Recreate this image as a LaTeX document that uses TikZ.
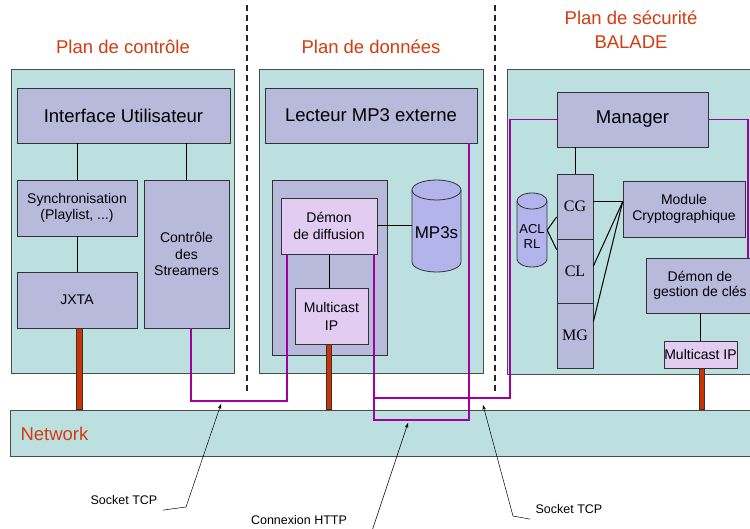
\documentclass[tikz,border=0pt]{standalone}
\usepackage{fontspec}
\setmainfont{Liberation Sans}
\newfontfamily\cgfont{Liberation Serif}
\usetikzlibrary{arrows.meta,calc}
\definecolor{panelc}{HTML}{BCE0E0}
\definecolor{boxc}{HTML}{B8BADC}
\definecolor{lightc}{HTML}{E2CCF2}
\definecolor{cylc}{HTML}{B4B4EC}
\definecolor{titlec}{HTML}{D23C10}
\definecolor{purpc}{HTML}{A000A0}
\definecolor{barc}{HTML}{CC3300}
\begin{document}
\begin{tikzpicture}[x=1pt,y=-1pt,
  panel/.style={draw=black!70,fill=panelc,line width=0.8pt,rectangle,inner sep=0pt},
  box/.style={draw=black!80,fill=boxc,line width=0.8pt,rectangle,inner sep=0pt,align=center},
  lbox/.style={box,fill=lightc},
  bigtxt/.style={font=\fontsize{18.5}{22}\selectfont},
  midtxt/.style={font=\fontsize{14}{16.5}\selectfont},
  smalltxt/.style={font=\fontsize{12.5}{15}\selectfont},
  titletxt/.style={bigtxt,text=titlec,align=center},
  conn/.style={draw=black,line width=1pt},
  purp/.style={draw=purpc,line width=1.8pt},
  bar/.style={fill=barc,draw=black!80,line width=0.5pt},
  anno/.style={draw=black,line width=0.5pt,-{Stealth[length=5pt,width=3.5pt]}},
  sep/.style={draw=black!85,line width=1.6pt,dash pattern=on 6pt off 4pt},
  cyl/.style={draw=black!80,fill=cylc,line width=0.8pt}
]
\clip (0,0) rectangle (750,529);
\fill[white] (0,0) rectangle (750,529);

% titles
\node[titletxt] (t1) at (123,47) {Plan de contrôle};
\node[titletxt] (t2) at (371,47) {Plan de données};
\node[titletxt] (t3) at (631,18) {Plan de sécurité};
\node[titletxt] (t4) at (631,42) {BALADE};

% panels
\node[panel,minimum width=223pt,minimum height=304pt] (p1) at (122.5,221) {};
\node[panel,minimum width=224pt,minimum height=304pt] (p2) at (371,221) {};
\node[panel,minimum width=255pt,minimum height=305pt] (p3) at (634.5,221.5) {};

% network band
\node[panel,minimum width=750pt,minimum height=46pt] (net) at (385,433) {};
\node[bigtxt,text=titlec,anchor=west] (netlbl) at (17,434) {Network};

% left panel
\node[box,bigtxt,minimum width=213pt,minimum height=55pt] (iu) at (123.5,115.5) {Interface Utilisateur};
\node[box,midtxt,minimum width=120pt,minimum height=56pt] (sync) at (77,208) {Synchronisation\\(Playlist, ...)};
\node[box,midtxt,minimum width=120pt,minimum height=56pt] (jxta) at (77,300) {JXTA};
\node[box,midtxt,minimum width=85pt,minimum height=148pt] (ctrl) at (186.5,254) {Contrôle\\des\\Streamers};
\draw[conn] (sync.north) -- (sync.north |- iu.south);
\draw[conn] (ctrl.north) -- (ctrl.north |- iu.south);
\draw[conn] (sync.south) -- (jxta.north);

% middle panel
\node[box,bigtxt,minimum width=212pt,minimum height=55pt] (lect) at (371,115.5) {Lecteur MP3 externe};
\node[box,minimum width=115pt,minimum height=175pt] (inner) at (329.5,267.5) {};
\node[lbox,midtxt,minimum width=96pt,minimum height=56pt] (dd) at (329,226) {Démon\\de diffusion};
\node[lbox,midtxt,font=\fontsize{14}{18}\selectfont,minimum width=73pt,minimum height=56pt] (mip) at (331.5,316) {Multicast\\IP};
\draw[conn] (dd.south) -- (dd.south |- mip.north);
% MP3s cylinder
\draw[cyl] (412,190) -- (412,262) arc[start angle=180,end angle=360,x radius=24.5pt,y radius=10pt]
  -- (461,190) arc[start angle=0,end angle=180,x radius=24.5pt,y radius=10pt] -- cycle;
\draw[draw=black!80,line width=0.8pt] (412,190) arc[start angle=180,end angle=360,x radius=24.5pt,y radius=10pt];
\node[minimum width=49pt,minimum height=92pt,inner sep=0pt] (mp3) at (436.5,226) {};
\node[font=\fontsize{17}{20}\selectfont] (mp3lbl) at (436.5,233) {MP3s};
\draw[conn] (dd.east) -- (dd.east -| mp3.west);

% right panel
\node[box,bigtxt,minimum width=151pt,minimum height=55pt] (mgr) at (632.5,119.5) {Manager};
\node[box,font=\cgfont\fontsize{16}{18}\selectfont,minimum width=36pt,minimum height=65pt] (cg) at (575,206.5) {CG};
\node[box,font=\cgfont\fontsize{16}{18}\selectfont,minimum width=36pt,minimum height=64pt] (cl) at (575,271) {CL};
\node[box,font=\cgfont\fontsize{16}{18}\selectfont,minimum width=36pt,minimum height=65pt] (mg) at (575,335.5) {MG};
\draw[conn] (cg.north) -- (cg.north |- mgr.south);
% ACL RL cylinder
\draw[cyl] (517,201) -- (517,259) arc[start angle=180,end angle=360,x radius=15pt,y radius=8pt]
  -- (547,201) arc[start angle=0,end angle=180,x radius=15pt,y radius=8pt] -- cycle;
\draw[draw=black!80,line width=0.8pt] (517,201) arc[start angle=180,end angle=360,x radius=15pt,y radius=8pt];
\node[minimum width=30pt,minimum height=74pt,inner sep=0pt] (acl) at (532,230) {};
\node[font=\fontsize{13}{15}\selectfont,align=center,inner sep=0pt] (acllbl) at (532,236) {ACL\\RL};
\draw[conn] (acl.east) -- ([yshift=-10.5pt]cg.west);
\draw[conn] (acl.east) -- ([yshift=-11pt]cl.north west);
\node[box,midtxt,minimum width=122pt,minimum height=56pt] (mc) at (684,209) {Module\\Cryptographique};
\draw[conn] ([yshift=7pt]mc.west) -- ([yshift=7pt]mc.west -| cg.east);
\draw[conn] ([yshift=7pt]mc.west) -- ([yshift=5pt]cl.east);
\draw[conn] ([yshift=7pt]mc.west) -- ([yshift=14pt]mg.east);
\node[box,font=\fontsize{14}{15}\selectfont,minimum width=108pt,minimum height=55pt] (dgc) at (700,285.5) {Démon de\\gestion de clés};
\node[lbox,midtxt,minimum width=73pt,minimum height=27pt] (mipr) at (700.5,354.5) {Multicast IP};
\draw[conn] (mipr.north) -- (mipr.north |- dgc.south);

% orange links to network
\fill[bar] ([xshift=-1pt]jxta.south) rectangle ([xshift=5pt]jxta.south |- net.north);
\fill[bar] ([xshift=-5.5pt]mip.south) rectangle ([xshift=-0.5pt]mip.south |- net.north);
\fill[bar] ([xshift=-1.5pt]mipr.south) rectangle ([xshift=3.5pt]mipr.south |- net.north);

% purple connections
\coordinate (c1) at (240,401);
\coordinate (http) at (420,420);
\coordinate (j1) at (374,398);
\coordinate (k1) at (510,398);
\draw[purp] ([xshift=4.5pt]ctrl.south) |- (c1) -| ([xshift=-42pt]dd.south);
\draw[purp] ([xshift=45pt]dd.south) |- (http) -| ([xshift=98pt]lect.south);
\draw[purp] (j1) -- (k1) |- (mgr.west);
\draw[purp] (mgr.east) -| ([xshift=48pt]dgc.north);

% dashed separators
\coordinate (s1a) at (247,5);
\coordinate (s1b) at (247,392);
\coordinate (s2a) at (495,5);
\coordinate (s2b) at (495,392);
\draw[sep] (s1a) -- (s1b);
\draw[sep] (s2a) -- (s2b);

% annotations
\node[smalltxt] (sock1) at (124,500) {Socket TCP};
\node[smalltxt] (httpl) at (299,520) {Connexion HTTP};
\node[smalltxt] (sock2) at (569,509) {Socket TCP};
\coordinate (u1) at (186,507);
\coordinate (tip1) at (221,404);
\coordinate (u3) at (372,531);
\coordinate (tip3) at (408,423);
\coordinate (u2) at (513,516);
\coordinate (tip2) at (483,405);
\draw[anno] ([xshift=2pt,yshift=-2pt]sock1.south east) -- (u1) -- (tip1);
\draw[anno] (u3) -- (tip3);
\draw[anno] ([xshift=-2pt,yshift=-2pt]sock2.south west) -- (u2) -- (tip2);
\end{tikzpicture}
\end{document}
